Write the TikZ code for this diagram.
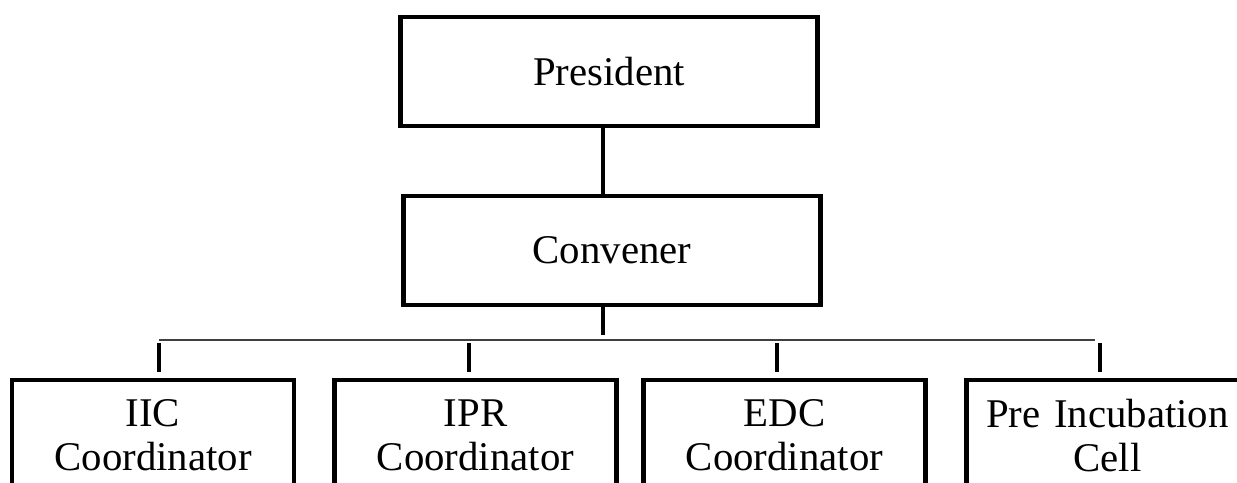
\documentclass[tikz,border=0pt]{standalone}
\usepackage{fontspec}
\setmainfont{Liberation Serif}
\usetikzlibrary{calc}

\begin{document}
\begin{tikzpicture}[x=0.01cm,y=-0.01cm,
    box/.style={draw,line width=1.3pt,minimum width=4.17cm,minimum height=1.09cm,
      font=\fontsize{11.6}{12.5}\selectfont},
    unitbox/.style={draw,line width=1.3pt,minimum width=2.82cm,minimum height=1.11cm,
      text width=2.55cm,align=center,font=\fontsize{11.6}{12.5}\selectfont},
    link/.style={line width=1.3pt},
    bus/.style={line width=0.4pt,black!75}]
        \useasboundingbox (0,0) rectangle (1237,482);
        % top of the chart
        \node[box] (pres) at (609,71.5) {President};
        \node[box] (conv) at (612,250.5) {Convener};
        \coordinate (p1) at (603,126);
        \draw[link] (p1) -- (p1 |- conv.north);
        \draw[link] (conv.south -| p1) -- ++(0,28) coordinate (p2);
        % units under the convener
        \node[unitbox] (iic) at (153,435.5) {IIC\\Coordinator};
        \node[unitbox] (ipr) at (475.5,435.5) {IPR\\Coordinator};
        \node[unitbox] (edc) at (784.5,435.5) {EDC\\Coordinator};
        \node[unitbox] (pic) at (1107.5,435.5) {Pre Incubation\\Cell};
        \coordinate (busL) at (159,340);
        \coordinate (busR) at (1095,340);
        \draw[bus] (busL) -- (busR);
        \foreach \n/\x in {iic/159,ipr/469,edc/777,pic/1100}
          \draw[link,shorten >=1.5pt] (\x,343) -- (\n.north -| \x,0);
      \end{tikzpicture}
\end{document}
